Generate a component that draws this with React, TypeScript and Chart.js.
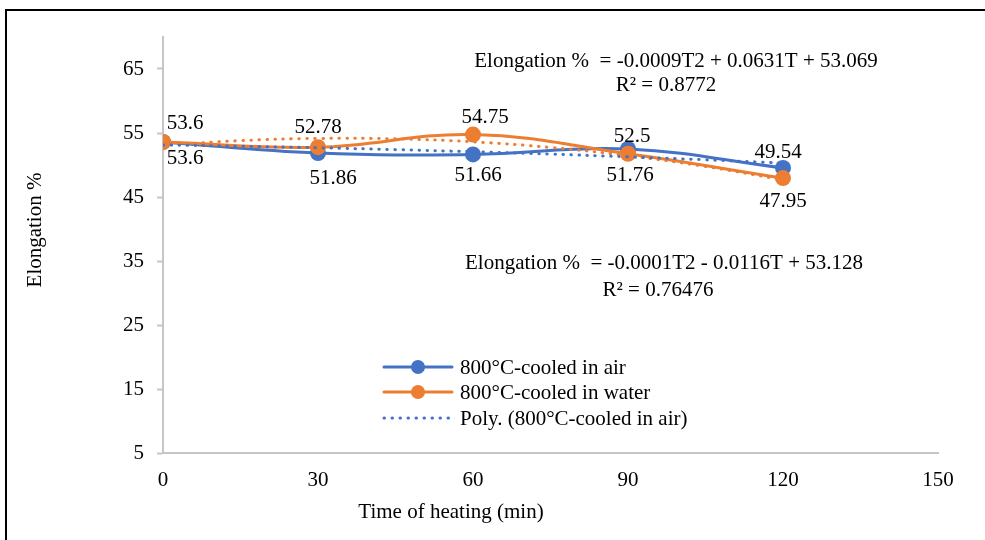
import React, { useEffect, useRef } from "react";
import { Chart, registerables } from "chart.js";

Chart.register(...registerables);

// ---- data ----
const times = [0, 30, 60, 90, 120];
const airValues = [53.6, 51.86, 51.66, 52.5, 49.54];
const waterValues = [53.6, 52.78, 54.75, 51.76, 47.95];
// polynomial trendlines (and its printed equations)
const trendTimes = [0, 15, 30, 45, 60, 75, 90, 105, 120];
const airTrend = [53.13, 52.93, 52.69, 52.4, 52.07, 51.7, 51.27, 50.81, 50.3];
const waterTrend = [53.07, 53.81, 54.15, 54.09, 53.62, 52.74, 51.46, 49.77, 47.68];
const yTicks = [5, 15, 25, 35, 45, 55, 65];
const xTickStep = 30;
const seriesNames = [
  "800°C-cooled in air",
  "800°C-cooled in water",
  "Poly. (800°C-cooled in air)",
];
const equationWater = ["Elongation %  = -0.0009T2 + 0.0631T + 53.069", "R² = 0.8772"];
const equationAir = ["Elongation %  = -0.0001T2 - 0.0116T + 53.128", "R² = 0.76476"];
const xTitle = "Time of heating (min)";
const yTitle = "Elongation %";

// ---- styling / placement ----
const BLUE = "#4472C4";
const ORANGE = "#ED7D31";
const FONT = "'Liberation Serif', 'Times New Roman', serif";
const FONT_SIZE = 21;
const airLabelOffsets = [
  [22, 22], [15, 31], [5, 27], [4, -7], [-5, -10],
];
const waterLabelOffsets = [
  [22, -13], [0, -14], [12, -12], [2, 27], [0, 29],
];

const overlayPlugin = {
  id: "overlay",
  afterDatasetsDraw(chart: any) {
    const ctx = chart.ctx as CanvasRenderingContext2D;
    ctx.save();
    ctx.font = `${FONT_SIZE}px ${FONT}`;
    ctx.fillStyle = "#000";
    ctx.textBaseline = "alphabetic";
    ctx.textAlign = "center";

    // data labels
    const drawLabels = (dsIndex: number, values: number[], offsets: number[][]) => {
      const meta = chart.getDatasetMeta(dsIndex);
      meta.data.forEach((pt: any, i: number) => {
        const [dx, dy] = offsets[i];
        ctx.fillText(String(values[i]), pt.x + dx, pt.y + dy);
      });
    };
    drawLabels(0, airValues, airLabelOffsets);
    drawLabels(1, waterValues, waterLabelOffsets);

    // equations
    ctx.fillText(equationWater[0], 676, 67);
    ctx.fillText(equationWater[1], 666, 91);
    ctx.fillText(equationAir[0], 664, 269);
    ctx.fillText(equationAir[1], 658, 296);

    // legend
    const legendRows = [
      { name: seriesNames[0], color: BLUE, marker: true, dotted: false, y: 367 },
      { name: seriesNames[1], color: ORANGE, marker: true, dotted: false, y: 392 },
      { name: seriesNames[2], color: BLUE, marker: false, dotted: true, y: 418 },
    ];
    legendRows.forEach((r) => {
      ctx.save();
      ctx.strokeStyle = r.color;
      ctx.lineWidth = 3;
      ctx.lineCap = "round";
      if (r.dotted) {
        ctx.setLineDash([0.5, 7.5]);
      }
      ctx.beginPath();
      ctx.moveTo(384, r.y);
      ctx.lineTo(452, r.y);
      ctx.stroke();
      if (r.marker) {
        ctx.setLineDash([]);
        ctx.fillStyle = r.color;
        ctx.beginPath();
        ctx.arc(418, r.y, 7, 0, Math.PI * 2);
        ctx.fill();
      }
      ctx.restore();
      ctx.textAlign = "left";
      ctx.fillText(r.name, 460, r.y + 7);
    });

    // axis titles
    ctx.textAlign = "center";
    ctx.fillText(xTitle, 451, 518);
    ctx.save();
    ctx.translate(35, 230);
    ctx.rotate(-Math.PI / 2);
    ctx.textBaseline = "middle";
    ctx.fillText(yTitle, 0, 0);
    ctx.restore();

    ctx.restore();
  },
};

export default function App() {
  const canvasRef = useRef<HTMLCanvasElement | null>(null);

  useEffect(() => {
    const canvas = canvasRef.current;
    if (!canvas) return;
    const toXY = (xs: number[], ys: number[]) => xs.map((x, i) => ({ x, y: ys[i] }));
    const chart = new Chart(canvas, {
      type: "line",
      data: {
        datasets: [
          {
            label: seriesNames[0],
            data: toXY(times, airValues),
            borderColor: BLUE,
            backgroundColor: BLUE,
            borderWidth: 3,
            pointRadius: 8,
            pointBorderWidth: 0,
            pointBackgroundColor: BLUE,
            tension: 0.4,
            order: 4,
          },
          {
            label: seriesNames[1],
            data: toXY(times, waterValues),
            borderColor: ORANGE,
            backgroundColor: ORANGE,
            borderWidth: 3,
            pointRadius: 8,
            pointBorderWidth: 0,
            pointBackgroundColor: ORANGE,
            tension: 0.4,
            order: 3,
          },
          {
            label: seriesNames[2],
            data: toXY(trendTimes, airTrend),
            borderColor: BLUE,
            borderWidth: 3,
            borderDash: [0.5, 7.5],
            borderCapStyle: "round",
            pointRadius: 0,
            tension: 0.4,
            order: 1,
          },
          {
            label: "Poly. (800°C-cooled in water)",
            data: toXY(trendTimes, waterTrend),
            borderColor: ORANGE,
            borderWidth: 3,
            borderDash: [0.5, 7.5],
            borderCapStyle: "round",
            pointRadius: 0,
            tension: 0.4,
            order: 2,
          },
        ],
      },
      options: {
        animation: false,
        responsive: false,
        maintainAspectRatio: false,
        events: [],
        layout: { padding: { left: 0, right: 47, top: 37, bottom: 0 } },
        plugins: {
          legend: { display: false },
          tooltip: { enabled: false },
          title: { display: false },
        },
        scales: {
          x: {
            type: "linear",
            min: 0,
            max: 150,
            ticks: {
              stepSize: xTickStep,
              padding: 15,
              color: "#000",
              font: { family: FONT, size: FONT_SIZE },
            },
            grid: { display: true, drawOnChartArea: false, drawTicks: false },
            border: { display: true, color: "#c6c6c6", width: 2 },
            afterFit: (s: any) => {
              s.height = 87;
            },
          },
          y: {
            type: "linear",
            min: 5,
            max: 70,
            afterBuildTicks: (s: any) => {
              s.ticks = yTicks.map((v) => ({ value: v }));
            },
            ticks: {
              padding: 13,
              color: "#000",
              font: { family: FONT, size: FONT_SIZE },
            },
            grid: {
              display: true,
              drawOnChartArea: false,
              drawTicks: true,
              tickLength: 6,
              tickColor: "#c6c6c6",
              tickWidth: 2,
            },
            border: { display: true, color: "#c6c6c6", width: 2 },
            afterFit: (s: any) => {
              s.width = 163;
            },
          },
        },
      } as any,
      plugins: [overlayPlugin],
    });
    return () => chart.destroy();
  }, []);

  return (
    <div style={{ position: "fixed", left: 0, top: 0, width: 985, height: 540, background: "#fff", overflow: "hidden" }}>
      <canvas ref={canvasRef} width={985} height={540} style={{ position: "absolute", left: 0, top: 0, width: 985, height: 540 }} />
      <div
        style={{
          position: "absolute",
          left: 5,
          top: 9,
          width: 1200,
          height: 800,
          border: "2px solid #000",
          pointerEvents: "none",
        }}
      />
    </div>
  );
}
